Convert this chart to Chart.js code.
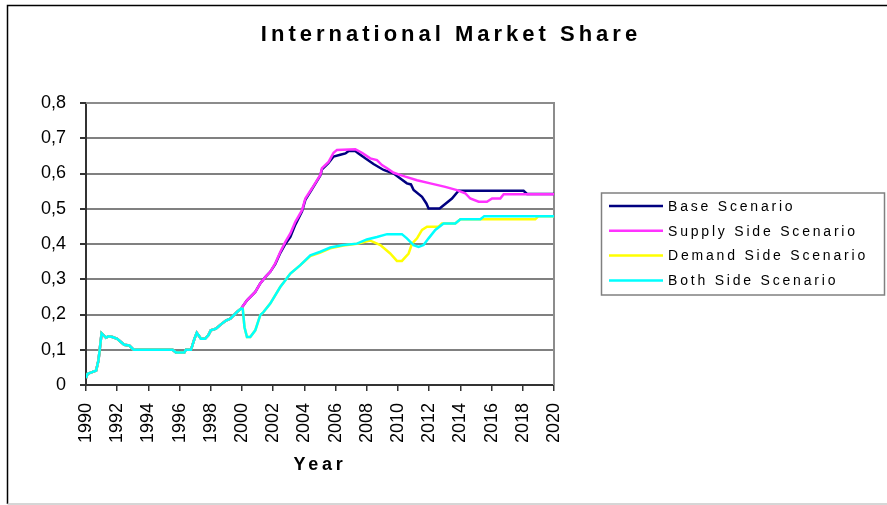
<!DOCTYPE html>
<html>
<head>
<meta charset="utf-8">
<title>International Market Share</title>
<script src="https://cdn.jsdelivr.net/npm/chart.js@4.4.1/dist/chart.umd.min.js"></script>
<style>
    html, body { margin: 0; padding: 0; background: #fff; }
    #wrap { width: 887px; height: 505px; position: relative; }
</style>
</head>
<body>
<div id="wrap"><canvas id="share-chart" width="887" height="505"></canvas></div>
<script>
// Shared history (all scenarios identical before 2000)
const earlyYears = [1990, 1990.1, 1990.3, 1990.65, 1990.8, 1991.0, 1991.28, 1991.43, 1991.7, 1992.0,
    1992.24, 1992.45, 1992.77, 1993.05, 1995.55, 1995.77, 1996.3, 1996.4, 1996.73, 1996.95,
    1997.1, 1997.37, 1997.63, 1997.84, 1998.0, 1998.33, 1998.65, 1998.97, 1999.25, 1999.68, 1999.95];
const earlyShare = [0.02, 0.032, 0.035, 0.041, 0.07, 0.147, 0.134, 0.138, 0.136, 0.131,
    0.122, 0.114, 0.112, 0.10, 0.10, 0.092, 0.092, 0.10, 0.10, 0.131,
    0.148, 0.131, 0.131, 0.141, 0.155, 0.16, 0.172, 0.183, 0.188, 0.207, 0.217];

// Base scenario, 2000 onwards
const baseYears = [2000.32, 2000.85, 2001.17, 2001.49, 2001.81, 2002.13, 2002.46, 2002.78, 2003.1, 2003.42,
    2003.85, 2004.06, 2004.49, 2005.02, 2005.13, 2005.55, 2005.87, 2006.3, 2006.63, 2006.84,
    2007.26, 2007.47, 2007.9, 2008.43, 2009.08, 2009.72, 2010.15, 2010.57, 2010.83, 2011.0,
    2011.54, 2011.82, 2011.96, 2012.67, 2013.46, 2013.88, 2018.05, 2018.27, 2020];
const baseShare = [0.24, 0.264, 0.288, 0.306, 0.321, 0.343, 0.375, 0.4, 0.42, 0.455,
    0.493, 0.525, 0.556, 0.594, 0.612, 0.63, 0.648, 0.653, 0.657, 0.664,
    0.664, 0.657, 0.643, 0.627, 0.61, 0.60, 0.586, 0.572, 0.569, 0.553,
    0.534, 0.515, 0.501, 0.501, 0.529, 0.551, 0.551, 0.542, 0.542];

// Supply side scenario, 2000 onwards
const supplyYears = [2000.32, 2000.85, 2001.17, 2001.49, 2001.81, 2002.13, 2002.46, 2002.78, 2003.1, 2003.42,
    2003.85, 2004.06, 2004.49, 2005.02, 2005.13, 2005.55, 2005.87, 2006.09, 2007.26, 2007.69,
    2008.22, 2008.65, 2008.97, 2009.3, 2009.72, 2010.47, 2011.22, 2012.07, 2013.03, 2013.78,
    2014.31, 2014.63, 2015.17, 2015.7, 2016.03, 2016.56, 2016.77, 2020];
const supplyShare = [0.24, 0.264, 0.288, 0.306, 0.321, 0.345, 0.378, 0.406, 0.43, 0.463,
    0.496, 0.529, 0.558, 0.596, 0.615, 0.633, 0.659, 0.667, 0.669, 0.659,
    0.643, 0.638, 0.624, 0.615, 0.602, 0.591, 0.581, 0.572, 0.562, 0.553,
    0.544, 0.529, 0.52, 0.52, 0.529, 0.529, 0.541, 0.541];

// Demand side scenario, 2000 onwards
const demandYears = [2000.05, 2000.16, 2000.32, 2000.53, 2000.85, 2001.17, 2001.38, 2001.81, 2002.45, 2002.78,
    2003.1, 2003.74, 2004.38, 2005.02, 2005.66, 2006.5, 2007.37, 2008.2, 2008.87, 2009.5,
    2009.93, 2010.25, 2010.68, 2010.9, 2011.22, 2011.54, 2011.86, 2012.6, 2012.82, 2013.67,
    2014.0, 2018.8, 2019.0, 2020];
const demandShare = [0.215, 0.164, 0.136, 0.136, 0.155, 0.198, 0.207, 0.231, 0.278, 0.297,
    0.316, 0.34, 0.366, 0.376, 0.388, 0.396, 0.401, 0.41, 0.397, 0.373,
    0.352, 0.352, 0.373, 0.401, 0.416, 0.44, 0.449, 0.449, 0.458, 0.458,
    0.47, 0.47, 0.479, 0.479];

// Both side scenario, 2000 onwards
const bothYears = [2000.05, 2000.16, 2000.32, 2000.53, 2000.85, 2001.17, 2001.38, 2001.81, 2002.45, 2002.78,
    2003.1, 2003.74, 2004.38, 2005.02, 2005.66, 2006.5, 2007.37, 2008.0, 2008.65, 2009.3,
    2010.25, 2010.57, 2011.0, 2011.32, 2011.64, 2011.96, 2012.39, 2012.92, 2013.67, 2014.0,
    2015.28, 2015.53, 2020];
const bothShare = [0.215, 0.164, 0.136, 0.136, 0.155, 0.198, 0.207, 0.231, 0.278, 0.297,
    0.316, 0.34, 0.368, 0.378, 0.39, 0.397, 0.401, 0.413, 0.42, 0.428,
    0.428, 0.416, 0.397, 0.392, 0.397, 0.416, 0.44, 0.458, 0.458, 0.47,
    0.47, 0.479, 0.479];

const seriesLabels = ['Base Scenario', 'Supply Side Scenario', 'Demand Side Scenario', 'Both Side Scenario'];
const seriesColors = ['#000080', '#ff33ff', '#ffff00', '#00ffff'];
const yearTicks = [1990, 1992, 1994, 1996, 1998, 2000, 2002, 2004, 2006, 2008, 2010, 2012, 2014, 2016, 2018, 2020];

function toPoints(xs, ys) {
    const all = earlyYears.concat(xs);
    const vals = earlyShare.concat(ys);
    return all.map((x, i) => ({x: x, y: vals[i]}));
}

const fontFamily = '"Liberation Sans", Arial, sans-serif';

// title, axis title, legend box and the plot frame
const decorPlugin = {
    id: 'decor',
    beforeDatasetsDraw(chart) {
        const ctx = chart.ctx;
        const a = chart.chartArea;
        ctx.save();
        ctx.strokeStyle = '#8c8c8c';
        ctx.lineWidth = 2;
        ctx.beginPath();
        ctx.moveTo(a.left, a.top);
        ctx.lineTo(a.right, a.top);
        ctx.lineTo(a.right, a.bottom);
        ctx.stroke();
        ctx.restore();
    },
    afterDraw(chart) {
        const ctx = chart.ctx;
        const a = chart.chartArea;
        ctx.save();
        // outer border
        ctx.strokeStyle = '#000';
        ctx.lineWidth = 1.5;
        ctx.beginPath();
        ctx.moveTo(7.5, 504);
        ctx.lineTo(7.5, 5.5);
        ctx.lineTo(890, 5.5);
        ctx.stroke();
        ctx.strokeStyle = '#c8c8c8';
        ctx.beginPath();
        ctx.moveTo(7.5, 504);
        ctx.lineTo(890, 504);
        ctx.stroke();

        ctx.fillStyle = '#000';
        ctx.textAlign = 'center';
        ctx.textBaseline = 'alphabetic';
        ctx.letterSpacing = '4px';
        ctx.font = 'bold 22px ' + fontFamily;
        ctx.fillText('International Market Share', 451, 41);

        ctx.letterSpacing = '3.7px';
        ctx.font = 'bold 18px ' + fontFamily;
        ctx.fillText('Year', (a.left + a.right) / 2, 470);

        // legend
        ctx.letterSpacing = '0px';
        ctx.strokeStyle = '#808080';
        ctx.lineWidth = 1.5;
        ctx.strokeRect(601.5, 193, 283, 102);
        ctx.textAlign = 'left';
        ctx.textBaseline = 'middle';
        ctx.font = '14px ' + fontFamily;
        ctx.letterSpacing = '2.8px';
        chart.data.datasets.forEach((ds, i) => {
            const y = 206 + i * 24.8;
            ctx.strokeStyle = ds.borderColor;
            ctx.lineWidth = 2.5;
            ctx.beginPath();
            ctx.moveTo(609, y);
            ctx.lineTo(663, y);
            ctx.stroke();
            ctx.fillText(ds.label, 668, y + 1);
        });
        ctx.restore();
    }
};

function initializeChart() {
    const ctx = document.getElementById('share-chart').getContext('2d');
    const seriesData = [
        toPoints(baseYears, baseShare),
        toPoints(supplyYears, supplyShare),
        toPoints(demandYears, demandShare),
        toPoints(bothYears, bothShare)
    ];

    new Chart(ctx, {
        type: 'line',
        data: {
            datasets: seriesLabels.map((label, i) => ({
                label: label,
                data: seriesData[i],
                borderColor: seriesColors[i],
                backgroundColor: seriesColors[i],
                borderWidth: 2.5,
                pointRadius: 0,
                tension: 0,
                fill: false,
                order: seriesLabels.length - i
            }))
        },
        options: {
            responsive: false,
            animation: false,
            layout: {
                padding: {top: 103, right: 333, bottom: 0, left: 0}
            },
            plugins: {
                legend: {display: false},
                title: {display: false},
                tooltip: {enabled: false}
            },
            scales: {
                x: {
                    type: 'linear',
                    min: 1990,
                    max: 2020,
                    afterBuildTicks: function(scale) {
                        scale.ticks = yearTicks.map(v => ({value: v}));
                    },
                    afterFit: function(scale) {
                        scale.height = 120;
                    },
                    ticks: {
                        minRotation: 90,
                        maxRotation: 90,
                        padding: 12,
                        color: '#000',
                        font: {family: fontFamily, size: 18},
                        callback: v => String(v)
                    },
                    grid: {
                        drawOnChartArea: false,
                        drawTicks: true,
                        tickLength: 6,
                        tickColor: '#333',
                        lineWidth: 1.5
                    },
                    border: {color: '#333', width: 2}
                },
                y: {
                    min: 0,
                    max: 0.8,
                    afterFit: function(scale) {
                        scale.width = 86;
                    },
                    ticks: {
                        stepSize: 0.1,
                        padding: 14,
                        color: '#000',
                        font: {family: fontFamily, size: 18},
                        callback: v => v === 0 ? '0' : v.toFixed(1).replace('.', ',')
                    },
                    grid: {
                        color: '#808080',
                        lineWidth: 2,
                        tickLength: 6,
                        tickColor: '#333'
                    },
                    border: {color: '#333', width: 2}
                }
            }
        },
        plugins: [decorPlugin]
    });
}

document.addEventListener('DOMContentLoaded', initializeChart);
</script>
</body>
</html>
